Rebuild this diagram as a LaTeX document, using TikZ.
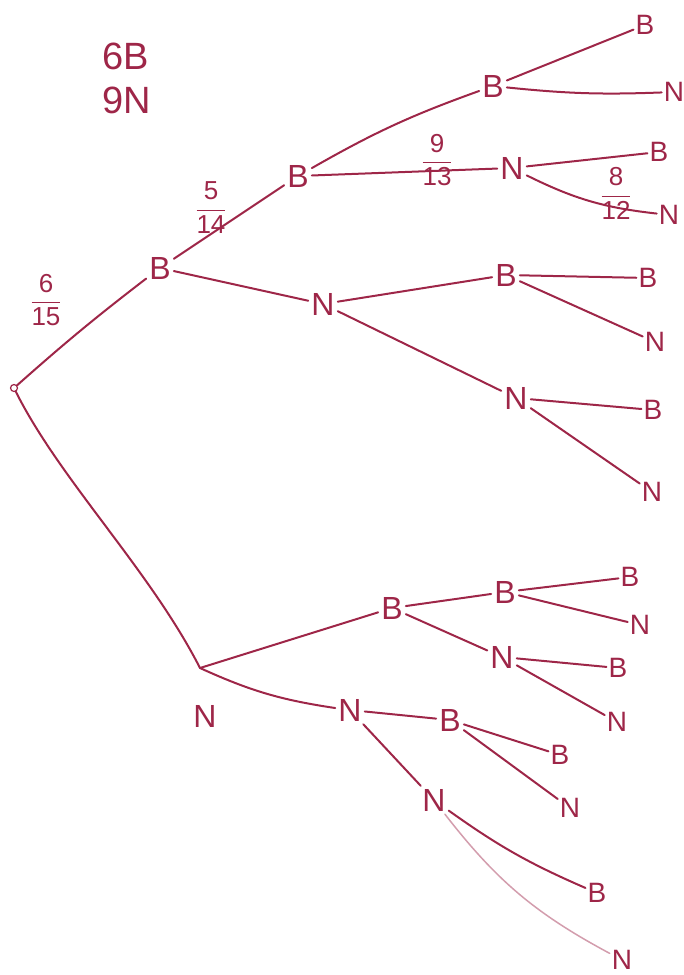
\documentclass[tikz,border=0pt]{standalone}
\usepackage{fontspec}
\setmainfont{Liberation Sans}
\definecolor{ink}{RGB}{158,38,72}
\begin{document}
\begin{tikzpicture}[x=1pt,y=-1pt,
  lab/.style={font=\fontsize{32}{32}\selectfont, text=ink, inner sep=3pt},
  small/.style={font=\fontsize{28}{28}\selectfont, text=ink, inner sep=2pt},
  big/.style={font=\fontsize{38}{44}\selectfont, text=ink, inner sep=0pt, align=left},
  frc/.style={font=\fontsize{26}{26}\selectfont, text=ink, inner sep=0pt},
  br/.style={draw=ink, line width=2pt, line cap=round},
  faint/.style={draw=ink!45, line width=1.5pt, line cap=round}]
\useasboundingbox (0,0) rectangle (684,975);
% given
\node[big] (given) at (127,78) {6B\\9N};
% root
\node[draw=ink, line width=1.2pt, circle, minimum size=7pt, inner sep=0pt] (root) at (14,388) {};
% first level
\node[lab] (B1) at (160,268) {B};
\coordinate (Nv) at (200,668);
\node[lab] (N1) at (205,716) {N};
% level 2
\node[lab] (BB) at (298,176) {B};
\node[lab] (BN) at (323,304) {N};
\node[lab] (NB) at (392,608) {B};
\node[lab] (NN) at (350,710) {N};
% level 3
\node[lab] (BBB) at (493,86) {B};
\node[lab] (BBN) at (512,168) {N};
\node[lab] (BNB) at (506,275) {B};
\node[lab] (BNN) at (516,398) {N};
\node[lab] (NBB) at (505,592) {B};
\node[lab] (NBN) at (502,657) {N};
\node[lab] (NNB) at (450,720) {B};
\node[lab] (NNN) at (434,800) {N};
% level 4
\node[small] (BBBB) at (645,25) {B};
\node[small] (BBBN) at (674,92) {N};
\node[small] (BBNB) at (659,152) {B};
\node[small] (BBNN) at (669,215) {N};
\node[small] (BNBB) at (648,278) {B};
\node[small] (BNBN) at (655,342) {N};
\node[small] (BNNB) at (653,410) {B};
\node[small] (BNNN) at (652,492) {N};
\node[small] (NBBB) at (630,577) {B};
\node[small] (NBBN) at (640,625) {N};
\node[small] (NBNB) at (618,668) {B};
\node[small] (NBNN) at (617,722) {N};
\node[small] (NNBB) at (560,755) {B};
\node[small] (NNBN) at (570,808) {N};
\node[small] (NNNB) at (597,893) {B};
\node[small] (NNNN) at (622,960) {N};
% fractions
\node[frc] (f1) at (46,300) {$\displaystyle\frac{\mbox{6}}{\mbox{15}}$};
\node[frc] (f2) at (211,208) {$\displaystyle\frac{\mbox{5}}{\mbox{14}}$};
\node[frc] (f3) at (437,160) {$\displaystyle\frac{\mbox{9}}{\mbox{13}}$};
\node[frc] (f4) at (616,193) {$\displaystyle\frac{\mbox{8}}{\mbox{12}}$};
% branches
\draw[br] (root) to[bend left=2] (B1);
\draw[br] (root) .. controls (60,480) and (150,570) .. (Nv);
\draw[br] (B1) -- (BB);
\draw[br] (B1) -- (BN);
\draw[br] (BB) to[bend left=5] (BBB);
\draw[br] (BB) -- (BBN);
\draw[br] (BBB) -- (BBBB);
\draw[br] (BBB) to[bend right=4] (BBBN);
\draw[br] (BBN) -- (BBNB);
\draw[br] (BBN) to[bend right=10] (BBNN);
\draw[br] (BN) -- (BNB);
\draw[br] (BN) -- (BNN);
\draw[br] (BNB) -- (BNBB);
\draw[br] (BNB) -- (BNBN);
\draw[br] (BNN) -- (BNNB);
\draw[br] (BNN) -- (BNNN);
\draw[br] (Nv) -- (NB);
\draw[br] (Nv) to[bend right=8] (NN);
\draw[br] (NB) -- (NBB);
\draw[br] (NB) -- (NBN);
\draw[br] (NBB) -- (NBBB);
\draw[br] (NBB) -- (NBBN);
\draw[br] (NBN) -- (NBNB);
\draw[br] (NBN) -- (NBNN);
\draw[br] (NN) -- (NNB);
\draw[br] (NN) -- (NNN);
\draw[br] (NNB) -- (NNBB);
\draw[br] (NNB) -- (NNBN);
\draw[br] (NNN) to[bend right=6] (NNNB);
\draw[faint] (NNN) to[bend right=12] (NNNN);
\end{tikzpicture}
\end{document}
